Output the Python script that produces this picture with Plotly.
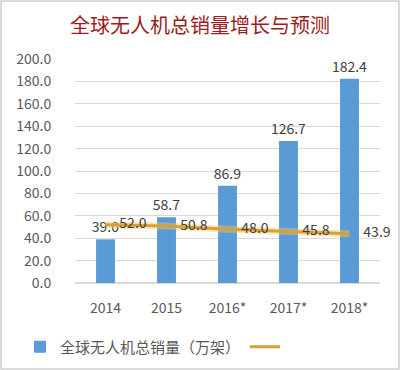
import plotly.graph_objects as go

categories = ["2014", "2015", "2016*", "2017*", "2018*"]
sales = [39.0, 58.7, 86.9, 126.7, 182.4]
ratio = [52.0, 50.8, 48.0, 45.8, 43.9]
y_ticks = [0, 20, 40, 60, 80, 100, 120, 140, 160, 180, 200]
y_tick_labels = [f"{v:.1f}" for v in y_ticks]

FONT = "Noto Sans CJK SC"
W, H = 400, 370
ML, MR, MT, MB = 75, 20, 59, 87
pw = W - ML - MR
ph = H - MT - MB
LABEL_SHIFT = 0.45  # line-label offset to the right, in category units

idx = list(range(len(categories)))

fig = go.Figure()
fig.add_trace(go.Bar(
    x=idx, y=sales, name="全球无人机总销量（万架）",
    marker=dict(color="#5B9BD5", line=dict(width=0)),
    width=0.31,
    text=[f"{v:.1f}" for v in sales], textposition="outside",
    constraintext="none",
    textfont=dict(family=FONT, size=14, color="#404040"),
    cliponaxis=False,
))
fig.add_trace(go.Scatter(
    x=idx, y=ratio, mode="lines", showlegend=False,
    line=dict(color="rgba(240,200,120,0.45)", width=7),
    hoverinfo="skip",
))
fig.add_trace(go.Scatter(
    x=idx, y=ratio, name=" ", mode="lines",
    line=dict(color="#D9A032", width=3),
))
fig.add_trace(go.Scatter(
    x=[i + LABEL_SHIFT for i in idx], y=ratio, mode="text", showlegend=False,
    text=[f"{v:.1f}" for v in ratio], textposition="middle center",
    textfont=dict(family=FONT, size=14, color="#404040"),
    cliponaxis=False, hoverinfo="skip",
))

fig.update_layout(
    width=W, height=H,
    margin=dict(l=ML, r=MR, t=MT, b=MB, autoexpand=False),
    paper_bgcolor="white", plot_bgcolor="white",
    title=dict(text="全球无人机总销量增长与预测", x=0.5, xanchor="center",
               y=1 - 26 / H, yanchor="middle",
               font=dict(family=FONT, size=20, color="#9C1C1C")),
    font=dict(family=FONT, size=13, color="#595959"),
    showlegend=True,
    legend=dict(orientation="h", x=(20 - ML) / pw, xanchor="left",
                y=-(347 - (H - MB)) / ph, yanchor="middle",
                font=dict(family=FONT, size=15, color="#595959"),
                itemwidth=30, traceorder="normal"),
    xaxis=dict(type="linear", range=[-0.5, len(categories) - 0.5],
               tickvals=idx, ticktext=categories,
               showgrid=False, showline=False, zeroline=False,
               ticks="outside", ticklen=12,
               tickcolor="white", tickfont=dict(size=14)),
    yaxis=dict(range=[0, 200], tickvals=y_ticks, ticktext=y_tick_labels,
               showgrid=True, gridcolor="#D9D9D9", gridwidth=1,
               zeroline=True, zerolinecolor="#D9D9D9", showline=False,
               ticks="outside", ticklen=20, tickcolor="white",
               tickfont=dict(size=14)),
)

fig.add_shape(type="rect", xref="paper", yref="paper",
              x0=(-ML + 1) / pw, x1=(W - ML - 1) / pw,
              y0=(-MB + 1) / ph, y1=(H - MB - 1) / ph,
              line=dict(color="#D0D0D0", width=1.5), fillcolor="rgba(0,0,0,0)",
              layer="above")

fig.write_html("out.html", config={"displayModeBar": False},
               post_script="document.body.style.margin='0';")
